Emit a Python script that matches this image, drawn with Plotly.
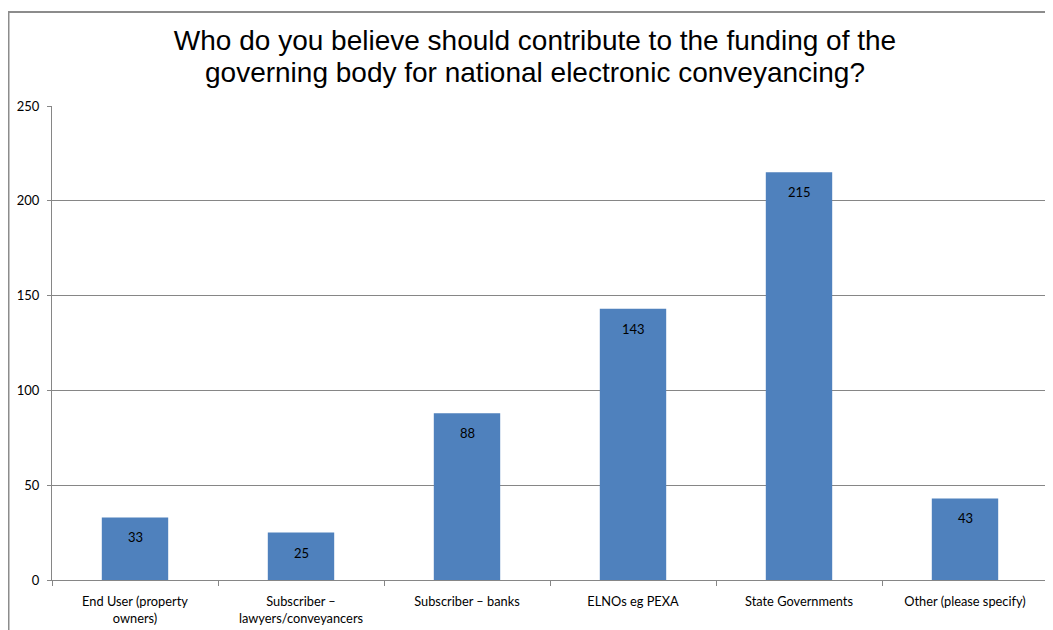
import plotly.graph_objects as go

categories = ["End User (property<br>owners)", "Subscriber –<br>lawyers/conveyancers",
              "Subscriber – banks", "ELNOs eg PEXA", "State Governments",
              "Other (please specify)"]
values = [33, 25, 88, 143, 215, 43]
y_ticks = [0, 50, 100, 150, 200, 250]
title_lines = ["Who do you believe should contribute to the funding of the",
               "governing body for national electronic conveyancing?"]

# page has an 8px body margin; figure coordinates below are relative to the figure
W, H = 1045, 622
L, R, T, B = 44, 5, 98, 50
pw, ph = W - L - R, H - T - B

def px_x(px):
    return (px - L) / pw

def px_y(py):
    return (H - B - py) / ph

LABEL_FONT = "Lato, Carlito, sans-serif"

fig = go.Figure(go.Bar(
    x=categories, y=values,
    marker=dict(color="#4F81BD", line=dict(width=0)),
    hoverinfo="x+y",
))

for c, v in zip(categories, values):
    fig.add_annotation(
        x=c, y=v, xref="x", yref="y", text=str(v), showarrow=False,
        yanchor="middle", yshift=-20,
        font=dict(family=LABEL_FONT, size=13, color="black"),
    )

title_text = "<br>".join(f"<span style='font-size:28px'>{t}</span>" for t in title_lines)

fig.update_layout(
    width=W, height=H,
    margin=dict(l=L, r=R, t=T, b=B),
    paper_bgcolor="white", plot_bgcolor="white",
    bargap=0.6,
    showlegend=False,
    title=dict(
        text=title_text,
        x=(535 - 8) / W, xanchor="center",
        y=1 - 42 / H, yanchor="middle", yref="container",
        font=dict(family="Liberation Sans, Arial, sans-serif", size=24.6, color="black"),
    ),
    xaxis=dict(
        type="category",
        showline=True, linecolor="#868686", linewidth=1,
        ticks="outside", tickson="boundaries", ticklen=5, tickcolor="#868686",
        tickfont=dict(family=LABEL_FONT, size=12.8, color="black"),
        ticklabelstandoff=10,
        showgrid=False,
    ),
    yaxis=dict(
        range=[0, 250], tickvals=y_ticks,
        showline=True, linecolor="#868686", linewidth=1,
        ticks="outside", ticklen=4, tickcolor="#868686",
        showgrid=True, gridcolor="#868686", gridwidth=1,
        tickfont=dict(family=LABEL_FONT, size=13, color="black"),
        ticklabelstandoff=5,
        zeroline=False,
    ),
    shapes=[
        dict(type="line", xref="paper", yref="paper",
             x0=px_x(0.5), x1=px_x(0.5), y0=px_y(4), y1=px_y(640),
             line=dict(color="#8c8c8c", width=2)),
        dict(type="line", xref="paper", yref="paper",
             x0=px_x(0), x1=px_x(1060), y0=px_y(4), y1=px_y(4),
             line=dict(color="#8c8c8c", width=2)),
    ],
)

fig.write_html("out.html")
